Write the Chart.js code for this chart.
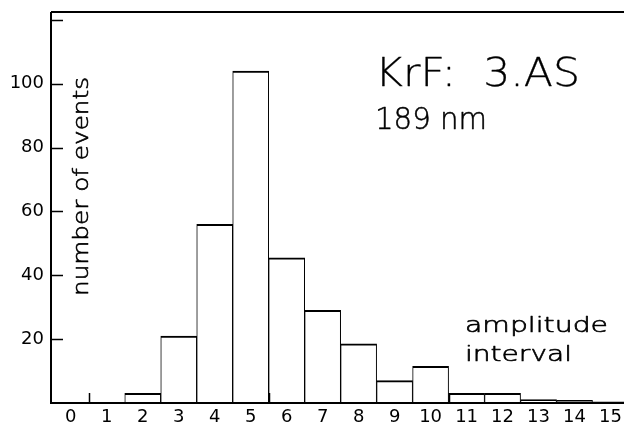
<!DOCTYPE html>
<html><head><meta charset="utf-8">
<script src="https://cdn.jsdelivr.net/npm/chart.js@4/dist/chart.umd.min.js"></script>
<style>html,body{margin:0;padding:0;background:#fff;overflow:hidden}#wrap{width:624px;height:428px;position:relative}</style>
</head><body><div id="wrap"><canvas id="c" width="624" height="428"></canvas></div>
<script>
// amplitude interval bins and number of events
const bins = [0, 1, 2, 3, 4, 5, 6, 7, 8, 9, 10, 11, 12, 13, 14, 15];
const counts = [0, 0, 3, 21, 56, 104, 45.5, 29, 18.5, 7, 11.5, 3, 3, 1.1, 0.8, 0.4];
const xTickLabels = ['0','1','2','3','4','5','6','7','8','9','10','11','12','13','14','15'];
const yTickValues = [20, 40, 60, 80, 100, 120];
const yTickLabels = ['20', '40', '60', '80', '100', ''];
const xMinorTicks = [0.5, 5.5, 10.5];
const titleLine1 = 'KrF:  3.AS';
const titleLine2 = '189 nm';
const xAxisTitle = ['amplitude', 'interval'];
const yAxisTitle = 'number of events';

const FONT = '"DejaVu Sans", "Liberation Sans", sans-serif';

function fitText(ctx, text, size, x, y, width, weight, strokeW) {
  ctx.save();
  ctx.font = (weight || 'normal') + ' ' + size + 'px ' + FONT;
  const w = ctx.measureText(text).width;
  ctx.translate(x, y);
  ctx.scale(width / w, 1);
  ctx.textAlign = 'left';
  ctx.textBaseline = 'alphabetic';
  ctx.fillText(text, 0, 0);
  if (strokeW) {
    ctx.lineWidth = strokeW;
    ctx.lineJoin = 'round';
    ctx.strokeText(text, 0, 0);
  }
  ctx.restore();
}

const framePlugin = {
  id: 'frame',
  afterDatasetsDraw(chart) {
    const ctx = chart.ctx;
    const a = chart.chartArea;
    const xs = chart.scales.x, ys = chart.scales.y;
    ctx.save();
    ctx.strokeStyle = '#000';
    ctx.fillStyle = '#000';
    ctx.lineWidth = 2;
    ctx.beginPath();
    ctx.moveTo(a.left, a.top); ctx.lineTo(a.left, a.bottom); ctx.lineTo(a.right, a.bottom);
    ctx.moveTo(a.left, a.top); ctx.lineTo(a.right, a.top);
    ctx.stroke();
    ctx.lineWidth = 1.5;
    ctx.beginPath();
    yTickValues.forEach(v => {
      const py = Math.round(ys.getPixelForValue(v)) + 0.5;
      ctx.moveTo(a.left, py); ctx.lineTo(a.left + 12, py);
    });
    xMinorTicks.forEach(v => {
      const px = Math.round(xs.getPixelForValue(v)) + 0.5;
      ctx.moveTo(px, a.bottom); ctx.lineTo(px, a.bottom - 10);
    });
    ctx.stroke();
    // annotations
    fitText(ctx, titleLine1, 39, 375, 86, 205, '200', 0.3);
    fitText(ctx, titleLine2, 30, 375, 129, 112, '200', 0.5);
    fitText(ctx, xAxisTitle[0], 21, 465, 332, 143, '200', 0.6);
    fitText(ctx, xAxisTitle[1], 21, 465, 361, 107, '200', 0.6);
    ctx.save();
    ctx.translate(88, 296);
    ctx.rotate(-Math.PI / 2);
    fitText(ctx, yAxisTitle, 21, 0, 0, 219, '200', 0.6);
    ctx.restore();
    ctx.restore();
  }
};

new Chart(document.getElementById('c'), {
  type: 'bar',
  data: {
    datasets: [{
      data: bins.map((b, i) => ({ x: b, y: counts[i] })),
      backgroundColor: '#fff',
      borderColor: '#000',
      borderWidth: { top: 2, left: 1, right: 1, bottom: 0 },
      borderSkipped: false,
      barPercentage: 1,
      categoryPercentage: 1
    }]
  },
  options: {
    responsive: false,
    animation: false,
    devicePixelRatio: 1,
    layout: { padding: { top: 12, left: 0, right: 0, bottom: 0 } },
    plugins: { legend: { display: false }, tooltip: { enabled: false } },
    scales: {
      x: {
        type: 'linear',
        min: -0.55, max: 15.375,
        offset: false,
        grid: { display: false, drawTicks: false },
        border: { display: false },
        afterBuildTicks: s => { s.ticks = bins.map(v => ({ value: v })); },
        afterFit: s => { s.height = 25; s.paddingLeft = 0; s.paddingRight = 0; },
        ticks: {
          autoSkip: false, maxRotation: 0, padding: 4, color: '#000',
          font: { family: FONT, size: 18 },
          callback: (v, i) => xTickLabels[i]
        }
      },
      y: {
        min: 0, max: 122.5,
        grid: { display: false, drawTicks: false },
        border: { display: false },
        afterBuildTicks: s => { s.ticks = yTickValues.map(v => ({ value: v })); },
        afterFit: s => { s.width = 51; s.paddingTop = 0; s.paddingBottom = 0; },
        ticks: {
          padding: 7, color: '#000',
          font: { family: FONT, size: 18 },
          callback: (v, i) => yTickLabels[i]
        }
      }
    }
  },
  plugins: [framePlugin]
});
</script></body></html>
